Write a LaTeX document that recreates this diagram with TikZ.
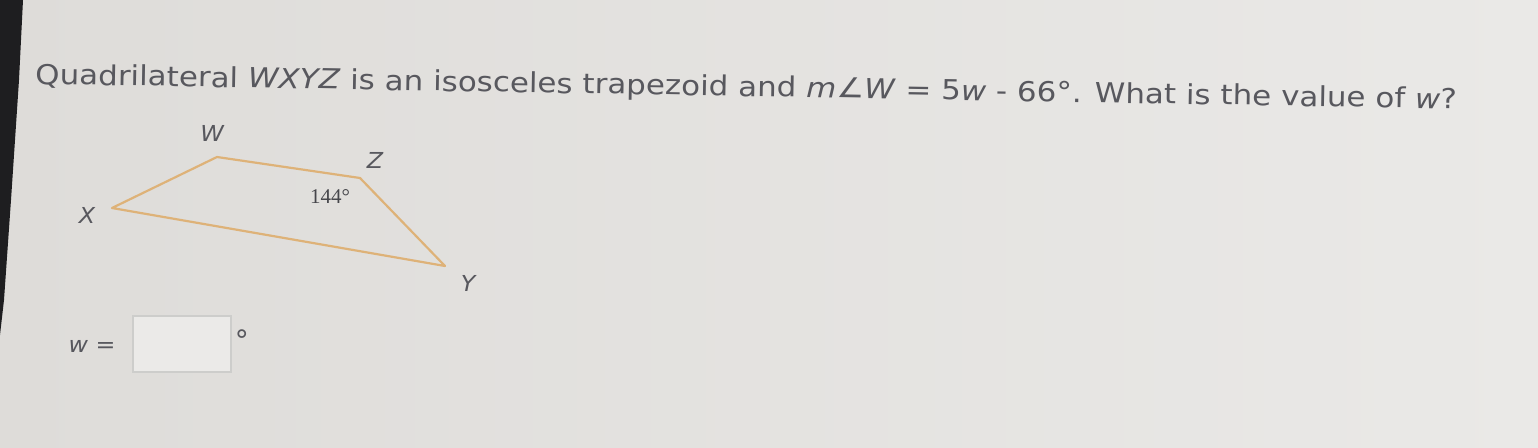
\documentclass[tikz,border=0pt]{standalone}
\usepackage{fontspec}
\setmainfont{DejaVu Sans}
\newfontfamily\serifnum{Liberation Serif}
\definecolor{bgl}{RGB}{222,220,217}
\definecolor{bgr}{RGB}{234,233,231}
\definecolor{edge}{RGB}{30,30,32}
\definecolor{txt}{RGB}{88,88,94}
\definecolor{trap}{RGB}{222,178,120}
\definecolor{boxc}{RGB}{205,205,203}
\tikzset{
  question/.style={anchor=base west, text=txt, font=\fontsize{27.5}{32}\selectfont, inner sep=0pt, rotate=-1.0, xscale=1.125},
  vlabel/.style={text=txt, font=\fontsize{22}{26}\selectfont\itshape, inner sep=0pt, xscale=1.08},
  anglabel/.style={text=txt!80!black, font=\fontsize{21}{24}\selectfont\serifnum, inner sep=0pt},
  side/.style={draw=trap, line width=2.2pt, line join=round},
  answerbox/.style={draw=boxc, line width=1.2pt, fill=bgl!60!white, minimum width=98pt, minimum height=56pt, inner sep=0pt}
}
\begin{document}
\begin{tikzpicture}[x=1pt,y=-1pt]
\useasboundingbox (0,0) rectangle (1538,447);
\shade[left color=bgl, right color=bgr] (0,0) rectangle (1538,447);
\fill[edge] (0,0) -- (23,0) -- (19,80) -- (11,200) -- (4,300) -- (0,335) -- cycle;
\node[question] (q) at (35,84) {Quadrilateral \textit{WXYZ} is an isosceles trapezoid and \textit{m}∠\textit{W} = 5\textit{w} - 66°. What is the value of \textit{w}?};
\coordinate (W) at (217,157);
\coordinate (Z) at (360,178);
\coordinate (Y) at (445,266);
\coordinate (X) at (112,208);
\draw[side] (W) -- (Z) -- (Y) -- (X) -- cycle;
\node[vlabel] (lw) at (212,133) {W};
\node[vlabel] (lz) at (375,160) {Z};
\node[vlabel] (lx) at (87,215) {X};
\node[vlabel] (ly) at (468,283) {Y};
\node[anglabel] (ang) at (330,197) {144°};
\node[vlabel] (weq) at (92,346) {w\upshape\ =};
\node[answerbox] (ans) at (182,344) {};
\node[text=txt, font=\fontsize{28}{30}\selectfont, inner sep=0pt, anchor=west] (deg) at (ans.east) [xshift=3pt, yshift=4pt] {°};
\end{tikzpicture}
\end{document}
